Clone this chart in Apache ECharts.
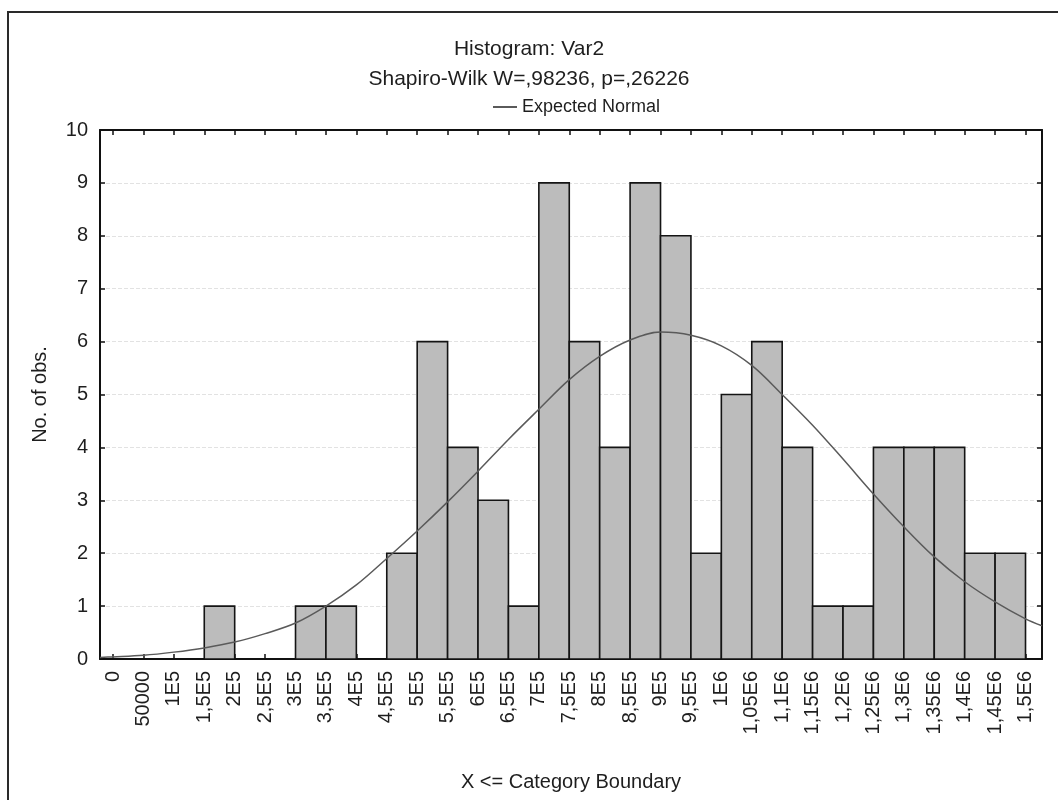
<!DOCTYPE html>
<html>
<head>
<meta charset="utf-8">
<script src="https://cdn.jsdelivr.net/npm/echarts@6/dist/echarts.min.js"></script>
<style>
html,body{margin:0;padding:0;background:#fff;}
#chart{width:1058px;height:800px;}
</style>
</head>
<body>
<div id="chart"></div>
<script>
// Category boundaries (upper bounds, "X <= Category Boundary")
const boundaries = [0, 50000, 100000, 150000, 200000, 250000, 300000, 350000, 400000, 450000,
  500000, 550000, 600000, 650000, 700000, 750000, 800000, 850000, 900000, 950000,
  1000000, 1050000, 1100000, 1150000, 1200000, 1250000, 1300000, 1350000, 1400000, 1450000, 1500000];
const tickLabels = ['0', '50000', '1E5', '1,5E5', '2E5', '2,5E5', '3E5', '3,5E5', '4E5', '4,5E5',
  '5E5', '5,5E5', '6E5', '6,5E5', '7E5', '7,5E5', '8E5', '8,5E5', '9E5', '9,5E5',
  '1E6', '1,05E6', '1,1E6', '1,15E6', '1,2E6', '1,25E6', '1,3E6', '1,35E6', '1,4E6', '1,45E6', '1,5E6'];
// Counts per bin (bin i lies between boundaries[i] and boundaries[i+1])
const counts = [0, 0, 0, 1, 0, 0, 1, 1, 0, 2, 6, 4, 3, 1, 9, 6, 4, 9, 8, 2, 5, 6, 4, 1, 1, 4, 4, 4, 2, 2];
// Expected normal curve
const normalX = [-21400, 0, 50000, 100000, 150000, 200000, 250000, 300000, 350000, 400000, 450000,
  500000, 550000, 600000, 650000, 700000, 750000, 800000, 850000, 900000, 950000,
  1000000, 1050000, 1100000, 1150000, 1200000, 1250000, 1300000, 1350000, 1400000, 1450000, 1500000, 1527100];
const normalY = [0.03, 0.04, 0.07, 0.13, 0.21, 0.32, 0.48, 0.68, 1.00, 1.40, 1.90,
  2.42, 2.97, 3.55, 4.15, 4.72, 5.28, 5.72, 6.03, 6.18, 6.12,
  5.92, 5.55, 5.00, 4.42, 3.78, 3.12, 2.50, 1.93, 1.46, 1.08, 0.76, 0.63];

const FONT = '"Liberation Sans", Arial, sans-serif';
const TXT = '#1e1e1e';

const chart = echarts.init(document.getElementById('chart'), null, {renderer: 'canvas'});

const binData = counts.map((c, i) => [boundaries[i], boundaries[i + 1], c]);
const curveData = normalX.map((x, i) => [x, normalY[i]]);

const xMin = -21400, xMax = 1527100;
const AXIS_LINE = {show: true, onZero: false, lineStyle: {color: '#111', width: 2}};

const option = {
  backgroundColor: '#ffffff',
  animation: false,
  textStyle: {fontFamily: FONT, color: TXT},
  graphic: [{
    type: 'rect', silent: true, z: -10,
    shape: {x: 8, y: 12, width: 1200, height: 1000},
    style: {fill: 'none', stroke: '#2a2a2a', lineWidth: 2}
  }],
  title: [
    {text: 'Histogram: Var2', left: 'center', top: 34,
      textStyle: {fontFamily: FONT, fontSize: 21, fontWeight: 'normal', color: TXT}},
    {text: 'Shapiro-Wilk W=,98236, p=,26226', left: 'center', top: 64,
      textStyle: {fontFamily: FONT, fontSize: 21, fontWeight: 'normal', color: TXT}}
  ],
  legend: {
    data: [{name: 'Expected Normal', icon: 'rect'}], left: 488, top: 93,
    itemWidth: 24, itemHeight: 2, itemGap: 8,
    itemStyle: {color: '#5a5a5a'},
    textStyle: {fontFamily: FONT, fontSize: 18, color: TXT}
  },
  grid: {left: 100, right: 16, top: 130, bottom: 141, containLabel: false},
  xAxis: [{
    type: 'value', position: 'bottom', min: xMin, max: xMax,
    name: 'X <= Category Boundary', nameLocation: 'middle', nameGap: 113,
    nameTextStyle: {fontFamily: FONT, fontSize: 20, color: TXT},
    axisLine: AXIS_LINE,
    axisTick: {show: true, inside: true, length: 5, customValues: boundaries, lineStyle: {color: '#111', width: 1.5}},
    axisLabel: {show: true, rotate: 90, margin: 12, fontFamily: FONT, fontSize: 20, color: TXT,
      customValues: boundaries,
      formatter: v => { const i = boundaries.indexOf(v); return i >= 0 ? tickLabels[i] : ''; }},
    splitLine: {show: false}
  }, {
    type: 'value', position: 'top', min: xMin, max: xMax,
    axisLine: AXIS_LINE,
    axisTick: {show: true, inside: true, length: 5, customValues: boundaries, lineStyle: {color: '#111', width: 1.5}},
    axisLabel: {show: false},
    splitLine: {show: false}
  }],
  yAxis: [{
    type: 'value', position: 'left', min: 0, max: 10, interval: 1,
    name: 'No. of obs.', nameLocation: 'middle', nameGap: 50,
    nameTextStyle: {fontFamily: FONT, fontSize: 20, color: TXT},
    axisLine: AXIS_LINE,
    axisTick: {show: true, inside: true, length: 5, lineStyle: {color: '#111', width: 1.5}},
    axisLabel: {show: true, margin: 12, fontFamily: FONT, fontSize: 20, color: TXT},
    splitLine: {show: true, lineStyle: {color: '#e2e2e2', width: 1, type: 'dashed'}}
  }, {
    type: 'value', position: 'right', min: 0, max: 10, interval: 1,
    axisLine: AXIS_LINE,
    axisTick: {show: true, inside: true, length: 5, lineStyle: {color: '#111', width: 1.5}},
    axisLabel: {show: false},
    splitLine: {show: false}
  }],
  series: [{
    type: 'custom', name: 'bins', xAxisIndex: 0, yAxisIndex: 0,
    data: binData, encode: {x: [0, 1], y: 2}, clip: true,
    renderItem: (params, api) => {
      const lo = api.value(0), hi = api.value(1), n = api.value(2);
      if (!n) return null;
      const p1 = api.coord([lo, n]);
      const p2 = api.coord([hi, 0]);
      return {
        type: 'rect',
        shape: {x: p1[0], y: p1[1], width: p2[0] - p1[0], height: p2[1] - p1[1]},
        style: {fill: '#bcbcbc', stroke: '#141414', lineWidth: 1.6}
      };
    },
    z: 2
  }, {
    type: 'line', name: 'Expected Normal', xAxisIndex: 0, yAxisIndex: 0,
    data: curveData, smooth: 0.35, symbol: 'none', showSymbol: false,
    lineStyle: {color: '#5a5a5a', width: 1.5},
    itemStyle: {color: '#5a5a5a'},
    z: 3
  }]
};
chart.setOption(option);
</script>
</body>
</html>
